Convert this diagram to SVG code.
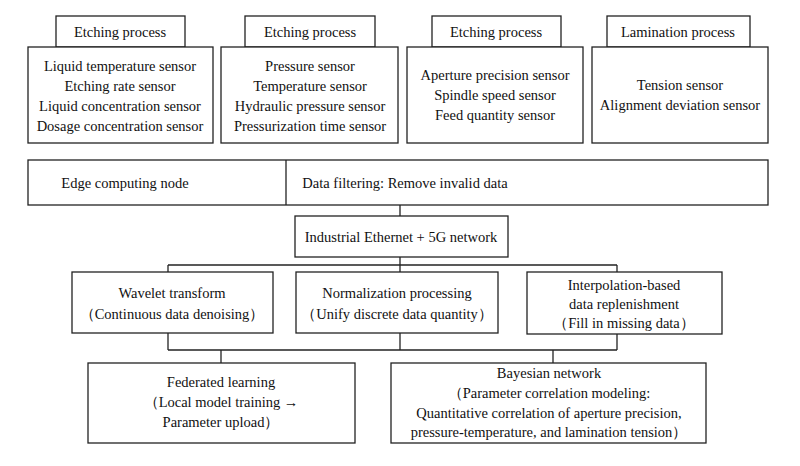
<svg xmlns="http://www.w3.org/2000/svg" width="800" height="466" viewBox="0 0 800 466">
<style>
rect{fill:#fff;stroke:#222;stroke-width:1.3}
text{font-family:'Liberation Serif','Times New Roman','DejaVu Serif',serif;font-size:14.5px;fill:#111;text-anchor:middle}
.c line{stroke:#222;stroke-width:1.3}
</style>
<rect x="0" y="0" width="800" height="466" style="stroke:none"/>
<g id="p1"><rect x="56" y="16" width="129" height="31"/><text x="120" y="37">Etching process</text>
<rect x="28" y="47" width="185" height="96"/><text x="120" y="71">Liquid temperature sensor</text><text x="120" y="91">Etching rate sensor</text><text x="120" y="111">Liquid concentration sensor</text><text x="120" y="131">Dosage concentration sensor</text></g>
<g id="p2"><rect x="245" y="16" width="130" height="31"/><text x="310" y="37">Etching process</text>
<rect x="221" y="47" width="177" height="96"/><text x="310" y="71">Pressure sensor</text><text x="310" y="91">Temperature sensor</text><text x="310" y="111">Hydraulic pressure sensor</text><text x="310" y="131">Pressurization time sensor</text></g>
<g id="p3"><rect x="432" y="16" width="129" height="31"/><text x="496" y="37">Etching process</text>
<rect x="407" y="47" width="176" height="96"/><text x="495" y="80">Aperture precision sensor</text><text x="495" y="100">Spindle speed sensor</text><text x="495" y="120">Feed quantity sensor</text></g>
<g id="p4"><rect x="607" y="16" width="143" height="31"/><text x="678" y="37">Lamination process</text>
<rect x="592" y="47" width="176" height="96"/><text x="680" y="90">Tension sensor</text><text x="680" y="110">Alignment deviation sensor</text></g>
<g id="edge"><rect x="28" y="160" width="740" height="45"/><line x1="286" y1="160" x2="286" y2="205" stroke="#222" stroke-width="1.3"/>
<text x="125" y="188">Edge computing node</text><text x="405" y="188">Data filtering: Remove invalid data</text></g>
<g class="c" id="connectors">
<line x1="400" y1="205" x2="400" y2="216"/>
<line x1="400" y1="257" x2="400" y2="265"/>
<line x1="168" y1="265" x2="617" y2="265"/>
<line x1="168" y1="265" x2="168" y2="272"/><line x1="400" y1="265" x2="400" y2="272"/><line x1="617" y1="265" x2="617" y2="272"/>
<line x1="168" y1="333" x2="168" y2="350"/><line x1="400" y1="333" x2="400" y2="350"/><line x1="617" y1="334" x2="617" y2="350"/>
<line x1="168" y1="350" x2="617" y2="350"/>
<line x1="221" y1="350" x2="221" y2="363"/><line x1="553" y1="350" x2="553" y2="363"/>
</g>
<g id="net"><rect x="295" y="216" width="213" height="41"/><text x="401" y="242">Industrial Ethernet + 5G network</text></g>
<g id="wav"><rect x="72" y="272" width="201" height="61"/><text x="172" y="298">Wavelet transform</text><text x="172" y="319">（Continuous data denoising）</text></g>
<g id="norm"><rect x="296" y="272" width="202" height="61"/><text x="397" y="298">Normalization processing</text><text x="397" y="319">（Unify discrete data quantity）</text></g>
<g id="interp"><rect x="527" y="272" width="195" height="62"/><text x="624" y="290">Interpolation-based</text><text x="624" y="309">data replenishment</text><text x="624" y="328">（Fill in missing data）</text></g>
<g id="fed"><rect x="88" y="363" width="267" height="80"/><text x="221" y="387">Federated learning</text><text x="221" y="407">（Local model training →</text><text x="221" y="427">Parameter upload）</text></g>
<g id="bay"><rect x="391" y="363" width="315" height="80"/><text x="549" y="378">Bayesian network</text><text x="549" y="398">（Parameter correlation modeling:</text><text x="549" y="418">Quantitative correlation of aperture precision,</text><text x="549" y="437">pressure-temperature, and lamination tension）</text></g>
</svg>
